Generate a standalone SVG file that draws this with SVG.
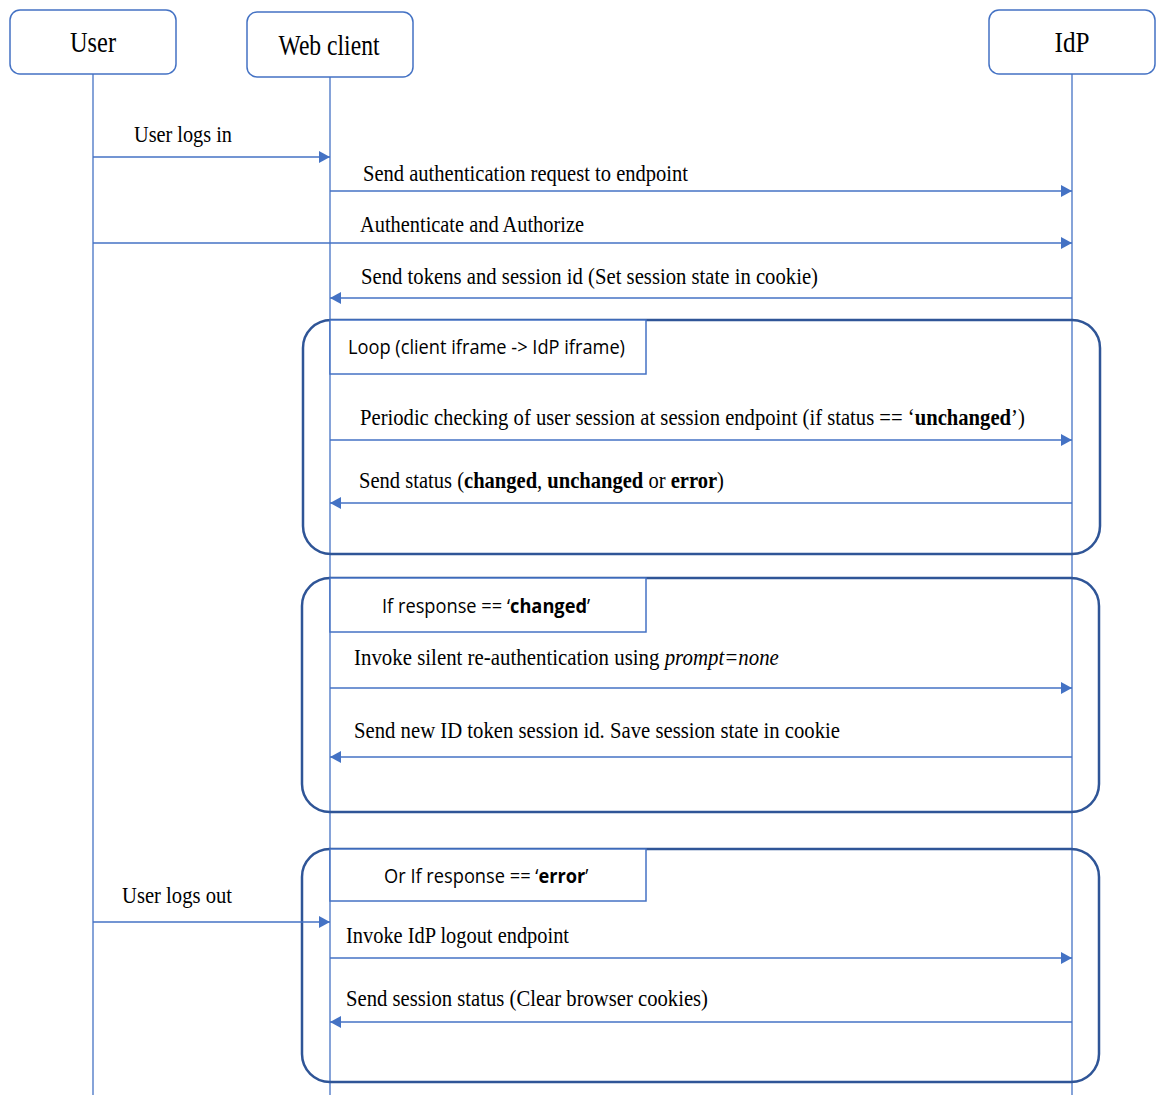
<svg xmlns="http://www.w3.org/2000/svg" width="1161" height="1095" viewBox="0 0 1161 1095">
<defs>
<style>
.box{fill:#fff;stroke:#4472C4;stroke-width:1.5}
.hdr{font-family:"Liberation Serif",serif;font-size:29px;fill:#000;text-anchor:middle}
.life{stroke:#4472C4;stroke-width:1.3;fill:none}
.msg{stroke:#4472C4;stroke-width:1.5;fill:none}
.frame{fill:none;stroke:#2F5597;stroke-width:2.5}
.lbl{fill:#fff;stroke:#4472C4;stroke-width:1.5}
.t{font-family:"Liberation Serif",serif;font-size:23px;fill:#000}
.s{font-family:"Open Sans","Liberation Sans",sans-serif;font-size:20px;fill:#000}
.b{font-weight:bold}
.i{font-style:italic}
</style>
<marker id="ah" viewBox="0 0 11 12" refX="11" refY="6" markerWidth="11" markerHeight="12" markerUnits="userSpaceOnUse" orient="auto">
<path d="M0,0 L11,6 L0,12 z" fill="#4472C4"/>
</marker>
</defs>
<rect width="1161" height="1095" fill="#fff"/>

<g id="lifelines">
<line class="life" x1="93" y1="74" x2="93" y2="1095"/>
<line class="life" x1="330" y1="77" x2="330" y2="1095"/>
<line class="life" x1="1072" y1="74" x2="1072" y2="1095"/>
</g>

<g id="user">
<rect class="box" x="10" y="10" width="166" height="64" rx="10"/>
<text class="hdr" x="93" y="52" textLength="46" lengthAdjust="spacingAndGlyphs">User</text>
</g>
<g id="webclient">
<rect class="box" x="247" y="12" width="166" height="65" rx="10"/>
<text class="hdr" x="329" y="55" textLength="101" lengthAdjust="spacingAndGlyphs">Web client</text>
</g>
<g id="idp">
<rect class="box" x="989" y="10" width="166" height="64" rx="10"/>
<text class="hdr" x="1072" y="52" textLength="35" lengthAdjust="spacingAndGlyphs">IdP</text>
</g>

<g id="frame-loop">
<rect class="frame" x="303" y="320" width="797" height="234" rx="28"/>
<rect class="lbl" x="330" y="320" width="316" height="54"/>
<text class="s" x="348" y="354" textLength="277" lengthAdjust="spacingAndGlyphs">Loop (client iframe -&gt; IdP iframe)</text>
</g>
<g id="frame-changed">
<rect class="frame" x="302" y="578" width="797" height="234" rx="28"/>
<rect class="lbl" x="330" y="578" width="316" height="54"/>
<text class="s" transform="translate(382,613) scale(0.913,1)">If response == ‘<tspan class="b">changed</tspan>’</text>
</g>
<g id="frame-error">
<rect class="frame" x="302" y="849" width="797" height="233" rx="28"/>
<rect class="lbl" x="330" y="849" width="316" height="52"/>
<text class="s" transform="translate(384,883) scale(0.913,1)">Or If response == ‘<tspan class="b">error</tspan>’</text>
</g>

<g id="connectors">
<line class="msg" x1="93" y1="157" x2="330" y2="157" marker-end="url(#ah)"/>
<line class="msg" x1="330" y1="191" x2="1072" y2="191" marker-end="url(#ah)"/>
<line class="msg" x1="93" y1="243" x2="1072" y2="243" marker-end="url(#ah)"/>
<line class="msg" x1="1072" y1="298" x2="330" y2="298" marker-end="url(#ah)"/>
<line class="msg" x1="330" y1="440" x2="1072" y2="440" marker-end="url(#ah)"/>
<line class="msg" x1="1072" y1="503" x2="330" y2="503" marker-end="url(#ah)"/>
<line class="msg" x1="330" y1="688" x2="1072" y2="688" marker-end="url(#ah)"/>
<line class="msg" x1="1072" y1="757" x2="330" y2="757" marker-end="url(#ah)"/>
<line class="msg" x1="93" y1="922" x2="330" y2="922" marker-end="url(#ah)"/>
<line class="msg" x1="330" y1="958" x2="1072" y2="958" marker-end="url(#ah)"/>
<line class="msg" x1="1072" y1="1022" x2="330" y2="1022" marker-end="url(#ah)"/>
</g>

<g id="labels">
<text class="t" x="134" y="142" textLength="98" lengthAdjust="spacingAndGlyphs">User logs in</text>
<text class="t" x="363" y="181" textLength="325" lengthAdjust="spacingAndGlyphs">Send authentication request to endpoint</text>
<text class="t" x="360" y="232" textLength="224" lengthAdjust="spacingAndGlyphs">Authenticate and Authorize</text>
<text class="t" x="361" y="284" textLength="457" lengthAdjust="spacingAndGlyphs">Send tokens and session id (Set session state in cookie)</text>
<text class="t" transform="translate(360,425) scale(0.898,1)">Periodic checking of user session at session endpoint (if status == ‘<tspan class="b">unchanged</tspan>’)</text>
<text class="t" transform="translate(359,488) scale(0.894,1)">Send status (<tspan class="b">changed</tspan>, <tspan class="b">unchanged</tspan> or <tspan class="b">error</tspan>)</text>
<text class="t" transform="translate(354,665) scale(0.908,1)">Invoke silent re-authentication using <tspan class="i">prompt=none</tspan></text>
<text class="t" x="354" y="738" textLength="486" lengthAdjust="spacingAndGlyphs">Send new ID token session id. Save session state in cookie</text>
<text class="t" x="122" y="903" textLength="110" lengthAdjust="spacingAndGlyphs">User logs out</text>
<text class="t" x="346" y="943" textLength="223" lengthAdjust="spacingAndGlyphs">Invoke IdP logout endpoint</text>
<text class="t" x="346" y="1006" textLength="362" lengthAdjust="spacingAndGlyphs">Send session status (Clear browser cookies)</text>
</g>
</svg>
